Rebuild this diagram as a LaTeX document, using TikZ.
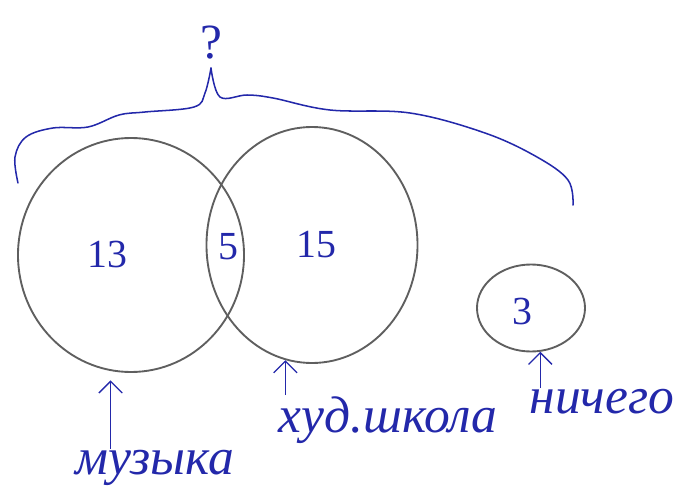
\documentclass[tikz,border=0pt]{standalone}
\usepackage{fontspec}
\setmainfont{Liberation Serif}
\usetikzlibrary{shapes.geometric, arrows.meta}
\definecolor{inkblue}{RGB}{35, 40, 170}
\definecolor{pencil}{RGB}{95, 95, 95}

\begin{document}
\begin{tikzpicture}[
  x=0.03cm, y=-0.03cm,
  setcirc/.style={draw=pencil, line width=1.6pt, ellipse, inner sep=0pt},
  num/.style={text=inkblue, font=\fontsize{34}{36}\selectfont},
  lbl/.style={text=inkblue, font=\fontsize{44}{46}\selectfont\itshape, inner sep=1pt},
  inkarrow/.style={draw=inkblue, line width=1.1pt, -{Straight Barb[length=10pt, width=20pt]}},
  ink/.style={draw=inkblue, line width=1.3pt, line cap=round}
]
  \useasboundingbox (0,0) rectangle (689,502);

  % the sets
  \node[setcirc, minimum width=6.78cm, minimum height=7.02cm] (music) at (131,255) {};
  \node[setcirc, minimum width=6.33cm, minimum height=7.08cm] (artsch) at (312,245) {};
  \node[setcirc, minimum width=3.24cm, minimum height=2.61cm] (none) at (531,308) {};

  \node[num] (n13) at (107,255) {13};
  \node[num] (n5) at (228,247) {5};
  \node[num] (n15) at (316,245) {15};
  \node[num] (n3) at (522,312) {3};

  % brace over everything
  \draw[ink] plot[smooth, tension=0.6] coordinates {
    (18,183) (15,157) (26,137) (53,128) (88,127) (119,115) (145,112)
    (194,107) (205,93) (211,68)};
  \draw[ink] plot[smooth, tension=0.6] coordinates {
    (211,68) (220,97) (247,95) (273,98) (330,110) (410,113) (485,133)
    (537,157) (568,180) (573,205)};
  \coordinate (tip) at (211,68);
  \node[text=inkblue, font=\fontsize{42}{44}\selectfont, above=4pt] (q) at (tip) {?};

  % labels
  \node[lbl] (muz) at (155,468) {музыка};
  \node[lbl] (art) at (388,420) {худ.школа};
  \node[lbl] (nic) at (602,402) {ничего};

  \draw[inkarrow, shorten >=8pt] (muz.north -| music.-100) -- (music.-100);
  \draw[inkarrow] (art.north -| artsch.-103) -- (artsch.-103);
  \draw[inkarrow] (nic.north -| none.-78) -- (none.-78);
\end{tikzpicture}
\end{document}
